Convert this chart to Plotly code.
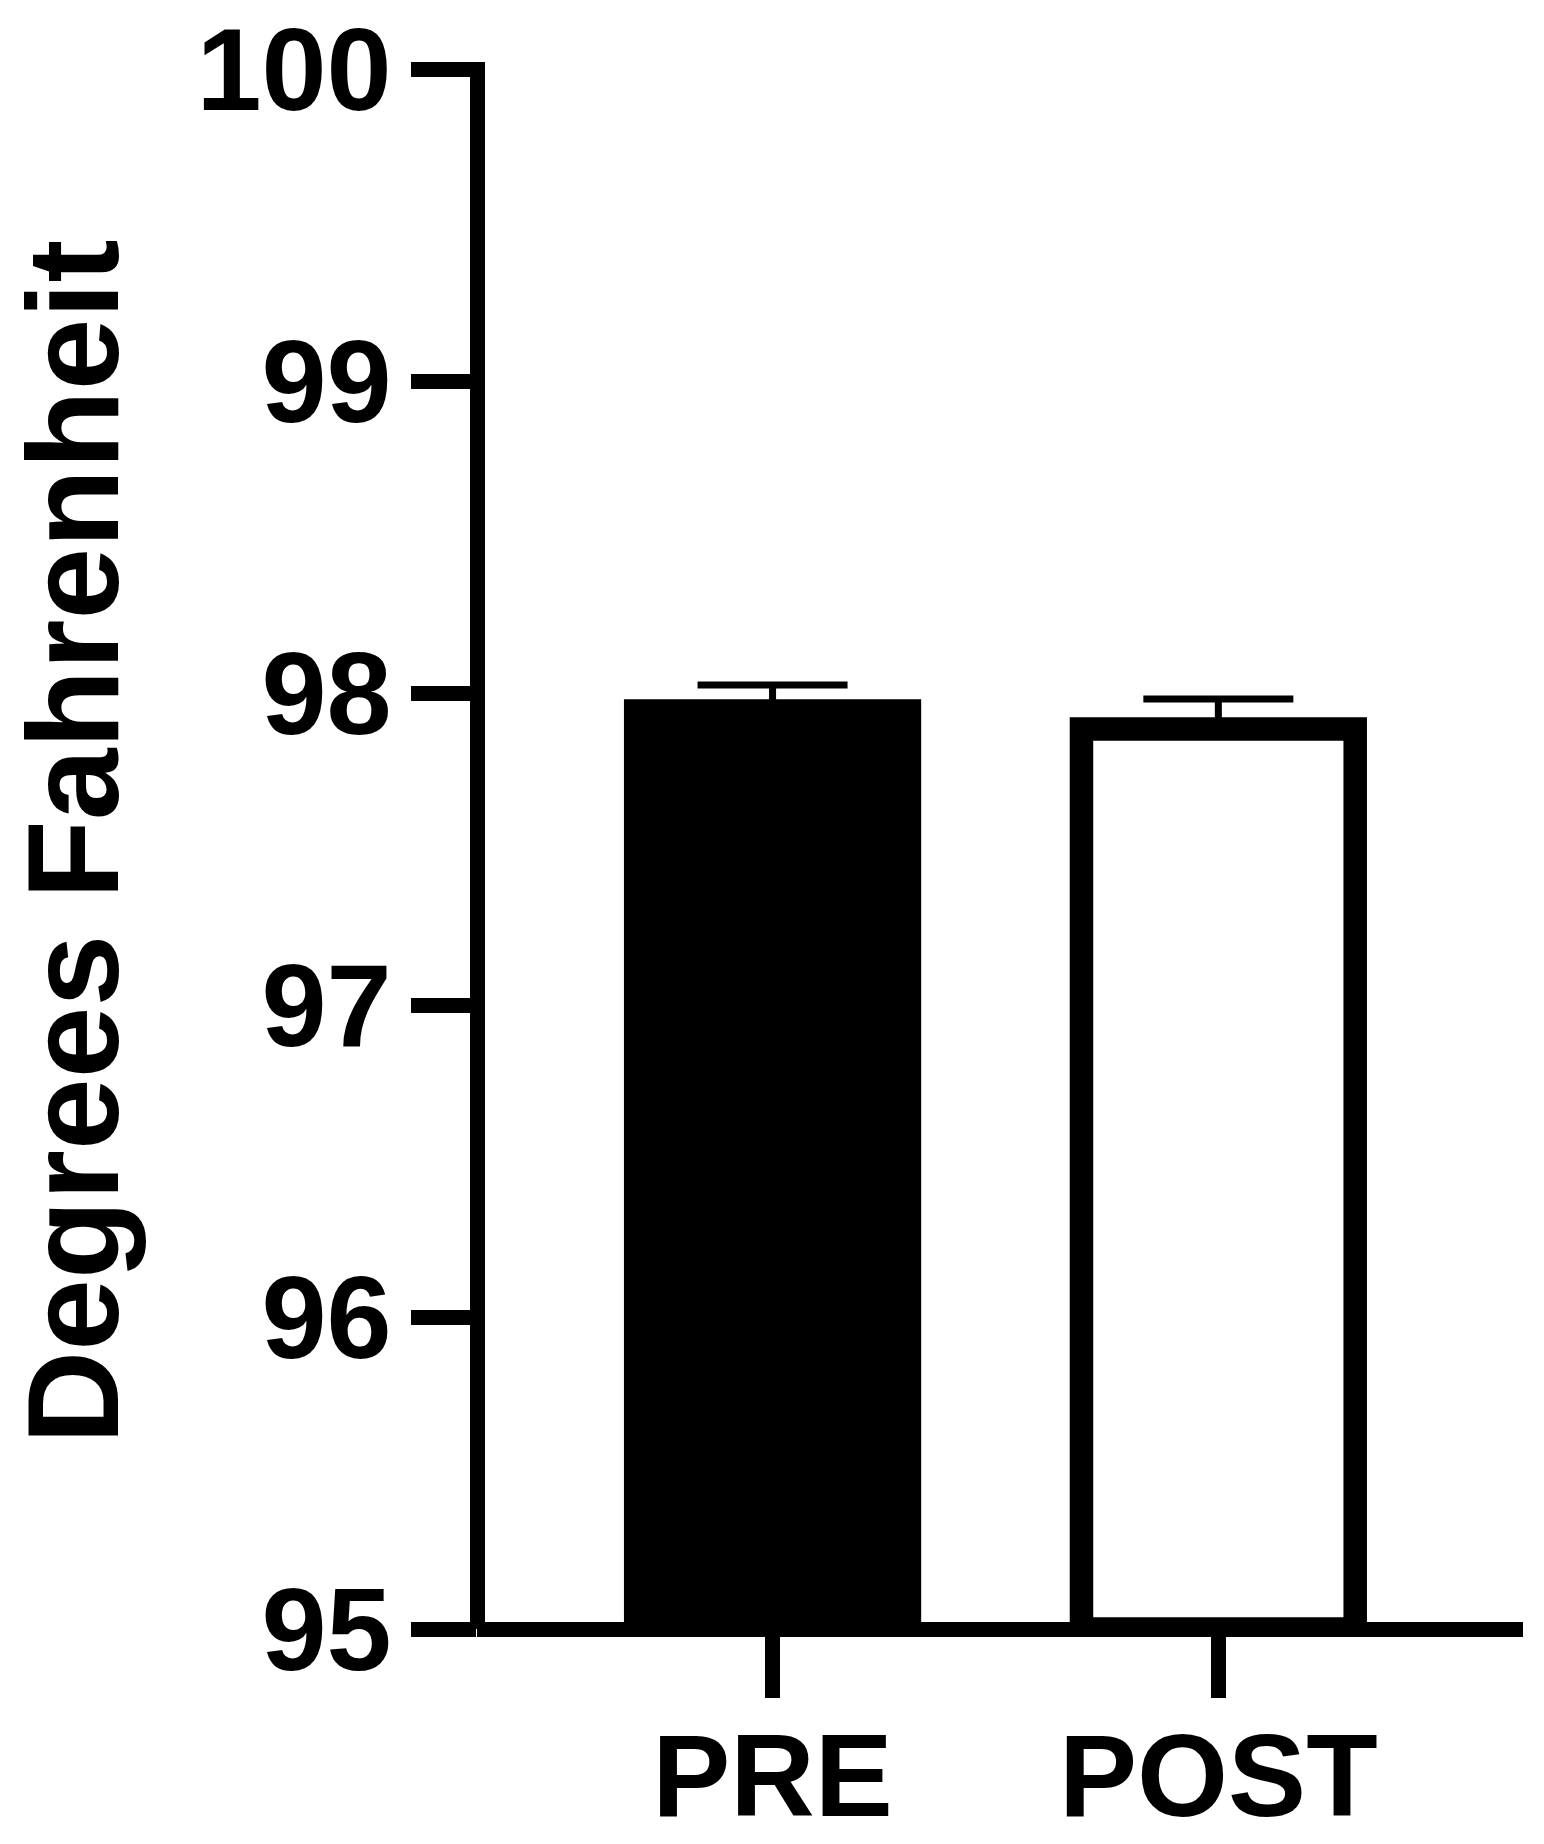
import plotly.graph_objects as go

categories = ["PRE", "POST"]
means = [97.943, 97.885]
errors = [0.083, 0.096]
fill_colors = ["#000000", "#ffffff"]
y_base = 95
y_tickvals = [95, 96, 97, 98, 99, 100]
y_ticktext = ["95", "96", "97", "98", "99", "100"]
y_title = "Degrees Fahrenheit"

FONT = "Arial, 'Liberation Sans', sans-serif"

# category slots, offset so the y-axis (x zeroline) sits at the left edge
x_offset = 0.663
x_pos = [i + x_offset for i in range(len(categories))]

fig = go.Figure()
fig.add_trace(go.Bar(
    x=x_pos,
    y=[m - y_base for m in means],
    base=0,
    width=0.614,
    marker=dict(color=fill_colors, line=dict(color="#000000", width=23.5)),
    error_y=dict(type="data", symmetric=False, array=errors,
                 arrayminus=[0] * len(errors), visible=True,
                 color="#000000", thickness=7, width=75),
    showlegend=False,
))

# page body has an 8px margin, so the figure is laid out 8px smaller/shifted
W, H = 1536, 1836
ml, mr, mt, mb = 469, 21, 54, 215

fig.update_layout(
    width=W, height=H,
    margin=dict(l=ml, r=mr, t=mt, b=mb, pad=0),
    paper_bgcolor="#ffffff", plot_bgcolor="#ffffff",
    font=dict(family=FONT, color="#000000"),
    xaxis=dict(
        range=[0, 2.3464],
        tickmode="array", tickvals=x_pos, ticktext=categories,
        showline=False, automargin=False,
        zeroline=True, zerolinecolor="#000000", zerolinewidth=15,
        ticks="outside", ticklen=68, tickwidth=15, tickcolor="#000000",
        ticklabelstandoff=-22, ticklabeloverflow="allow",
        tickfont=dict(family=FONT, size=117, weight="bold", color="#000000"),
        showgrid=False,
    ),
    yaxis=dict(
        range=[0, 5.0234],
        tickmode="array", tickvals=[v - y_base for v in y_tickvals],
        ticktext=y_ticktext,
        showline=False, automargin=False,
        zeroline=True, zerolinecolor="#000000", zerolinewidth=15,
        ticks="outside", ticklen=65, tickwidth=15, tickcolor="#000000",
        ticklabelstandoff=-4, ticklabeloverflow="allow",
        tickfont=dict(family=FONT, size=117, weight="bold", color="#000000"),
        showgrid=False,
    ),
    annotations=[dict(
        text=y_title, textangle=-90,
        xref="paper", yref="paper",
        x=(65 - ml) / (W - ml - mr), y=1 - (834 - mt) / (H - mt - mb),
        xanchor="center", yanchor="middle", showarrow=False,
        font=dict(family=FONT, size=129, weight="bold", color="#000000"),
    )],
)

fig.write_html("out.html")
